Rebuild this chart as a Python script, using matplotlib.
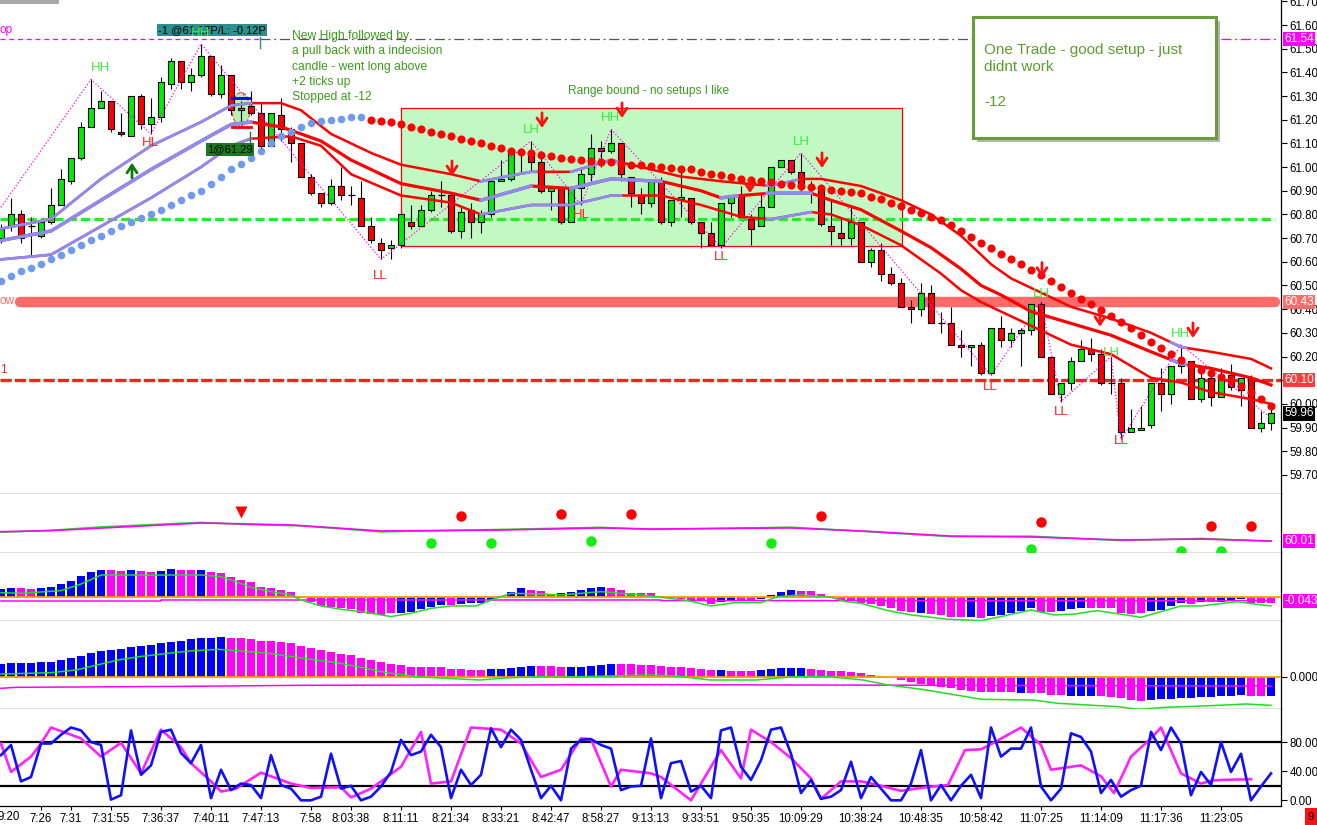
import numpy as np
import matplotlib
matplotlib.use("Agg")
import matplotlib.pyplot as plt
from matplotlib.patches import Rectangle, Ellipse

plt.rcParams['font.family'] = ['Liberation Sans', 'DejaVu Sans']

# ---------------- DATA ----------------
OPEN = [60.70,60.75,60.80,60.75,60.71,60.77,60.84,60.94,61.04,61.17,
        61.25,61.28,61.15,61.13,61.30,61.18,61.21,61.35,61.45,61.36,
        61.39,61.47,61.31,61.39,61.24,61.26,61.23,61.09,61.22,61.16,
        61.10,60.96,60.89,60.85,60.92,60.88,60.87,60.75,60.68,60.66,
        60.67,60.77,60.75,60.82,60.88,60.88,60.73,60.82,60.77,60.80,
        60.94,60.95,61.06,61.06,61.02,60.90,60.91,60.77,60.91,60.97,
        61.08,61.07,61.10,60.96,60.88,60.85,60.94,60.77,60.865,60.87,
        60.77,60.72,60.67,60.85,60.88,60.78,60.75,60.83,61.00,61.03,
        60.98,60.91,60.91,60.75,60.72,60.70,60.77,60.60,60.65,60.55,
        60.51,60.41,60.40,60.47,60.34,60.34,60.25,60.24,60.25,60.13,
        60.32,60.27,60.30,60.31,60.42,60.20,60.04,60.09,60.18,60.23,
        60.21,60.09,60.09,59.88,59.89,59.91,60.09,60.04,60.16,60.18,
        60.02,60.11,60.03,60.12,60.06,60.11,59.90,59.92]
HIGH = [60.76,60.87,60.82,60.79,60.77,60.91,60.99,61.04,61.19,61.37,
        61.32,61.28,61.23,61.30,61.31,61.29,61.38,61.46,61.45,61.42,
        61.52,61.47,61.43,61.39,61.28,61.32,61.27,61.23,61.29,61.17,
        61.10,60.97,60.89,60.95,61.00,60.92,60.94,60.79,60.70,60.69,
        60.80,60.84,60.84,60.90,60.94,60.89,60.83,60.85,60.82,60.94,
        61.03,61.07,61.08,61.11,61.07,60.91,60.91,60.92,61.00,61.14,
        61.11,61.16,61.10,60.96,60.91,60.94,60.96,60.86,60.98,60.87,
        60.77,60.77,60.85,60.88,60.92,60.80,60.89,61.00,61.03,61.03,
        61.06,60.94,60.91,60.86,60.79,60.83,60.77,60.66,60.68,60.58,
        60.53,60.44,60.51,60.50,60.39,60.41,60.31,60.25,60.26,60.32,
        60.37,60.32,60.32,60.42,60.43,60.20,60.09,60.20,60.27,60.28,
        60.23,60.20,60.11,59.98,59.99,60.09,60.15,60.16,60.25,60.18,
        60.15,60.15,60.15,60.17,60.11,60.12,59.97,59.98]
LOW = [60.68,60.73,60.68,60.62,60.70,60.76,60.84,60.93,61.03,61.17,
       61.25,61.15,61.13,61.13,61.16,61.14,61.19,61.33,61.33,61.32,
       61.38,61.30,61.29,61.22,61.18,61.22,61.08,61.09,61.11,61.02,
       60.96,60.88,60.83,60.84,60.86,60.84,60.75,60.68,60.61,60.61,
       60.66,60.74,60.75,60.81,60.83,60.72,60.70,60.70,60.72,60.79,
       60.94,60.94,60.98,60.98,60.89,60.82,60.76,60.77,60.84,60.94,
       61.00,61.06,60.94,60.83,60.80,60.83,60.76,60.75,60.79,60.76,
       60.66,60.67,60.66,60.79,60.79,60.67,60.75,60.83,61.00,60.97,
       60.90,60.85,60.75,60.67,60.67,60.67,60.60,60.58,60.52,60.50,
       60.41,60.34,60.37,60.34,60.30,60.25,60.20,60.16,60.12,60.12,
       60.24,60.24,60.16,60.29,60.20,60.04,60.01,60.06,60.18,60.18,
       60.08,60.04,59.85,59.88,59.89,59.90,59.97,60.00,60.13,60.02,
       60.01,59.99,60.03,60.06,59.99,59.90,59.88,59.89]
CLOSE = [60.74,60.80,60.70,60.75,60.77,60.84,60.95,61.04,61.17,61.25,
         61.28,61.16,61.14,61.30,61.18,61.21,61.36,61.45,61.36,61.39,
         61.47,61.31,61.39,61.24,61.25,61.23,61.09,61.23,61.16,61.10,
         60.96,60.89,60.85,60.92,60.88,60.88,60.75,60.69,60.65,60.67,
         60.80,60.75,60.82,60.88,60.88,60.73,60.81,60.77,60.80,60.94,
         60.95,61.06,61.065,61.02,60.90,60.91,60.77,60.91,60.97,61.08,
         61.07,61.10,60.97,60.89,60.85,60.94,60.77,60.86,60.875,60.77,
         60.72,60.67,60.85,60.88,60.79,60.74,60.83,61.00,61.03,60.98,
         60.91,60.91,60.76,60.73,60.70,60.77,60.60,60.65,60.55,60.51,
         60.41,60.40,60.47,60.34,60.34,60.25,60.24,60.25,60.13,60.32,
         60.27,60.30,60.31,60.42,60.20,60.04,60.09,60.18,60.23,60.21,
         60.09,60.09,59.88,59.90,59.90,60.09,60.04,60.16,60.18,60.02,
         60.11,60.03,60.12,60.07,60.11,59.90,59.92,59.96]

TICK_BARS = [4, 7, 11, 16, 21, 26, 31, 35, 40, 45, 50, 55, 60, 65, 70, 75, 80,
             86, 92, 98, 104, 110, 116, 122]
TICK_LABELS = ["7:26", "7:31", "7:31:55", "7:36:37", "7:40:11", "7:47:13", "7:58",
               "8:03:38", "8:11:11", "8:21:34", "8:33:21", "8:42:47", "8:58:27",
               "9:13:13", "9:33:51", "9:50:35", "10:09:29", "10:38:24", "10:48:35",
               "10:58:42", "11:07:25", "11:14:09", "11:17:36", "11:23:05"]
FIRST_LABEL = "9:20"

# three band lines (bar, price) and bars where they are drawn blue
BAND_UP = [(0,60.74),(5,60.78),(10,60.95),(15,61.09),(20,61.19),(23,61.26),(25,61.27),(28,61.27),
           (30,61.24),(33,61.14),(37,61.06),(40,61.01),(45,60.97),(48,60.94),(53,60.98),(57,60.98),
           (61,61.03),(64,61.00),(68,60.96),(72,60.94),(77,60.92),(80,60.95),(82,60.95),(86,60.92),
           (90,60.86),(93,60.80),(96,60.71),(99,60.59),(101,60.53),(104,60.47),(107,60.41),
           (111,60.36),(115,60.30),(118,60.24),(121,60.22),(125,60.19),(127,60.15)]
BAND_MID = [(0,60.69),(5,60.73),(10,60.86),(15,60.99),(20,61.11),(23,61.18),(25,61.19),(28,61.17),
            (32,61.11),(35,61.03),(40,60.93),(45,60.89),(48,60.86),(53,60.92),(57,60.91),(61,60.95),
            (66,60.94),(70,60.90),(72,60.87),(74,60.88),(77,60.89),(81,60.89),(83,60.86),(86,60.82),
            (90,60.73),(93,60.66),(96,60.57),(98,60.50),(100,60.46),(103,60.39),(107,60.34),
            (111,60.29),(115,60.22),(118,60.17),(121,60.15),(125,60.11),(127,60.08)]
BAND_LOW = [(0,60.61),(5,60.63),(10,60.75),(15,60.87),(20,61.00),(23,61.09),(25,61.12),(29,61.13),
            (32,61.09),(35,60.97),(40,60.88),(45,60.85),(48,60.80),(53,60.84),(57,60.84),(61,60.88),
            (66,60.88),(70,60.84),(74,60.79),(77,60.78),(81,60.81),(83,60.80),(86,60.755),(90,60.67),
            (92,60.61),(94,60.55),(96,60.48),(98,60.43),(103,60.33),(107,60.25),(111,60.21),
            (115,60.11),(118,60.09),(121,60.05),(125,60.02),(127,60.00)]
BLUE_UP = [(0,25),(48,53.5),(57,61.6),(76.6,79.6),(117,118.5)]
BLUE_MID = [(0,25),(48,53),(57,66),(72,73.6),(76.6,81),(117,118.5)]
BLUE_LOW = [(0,25),(48,62),(76.6,81)]

BLUE_DOTS = [60.52,60.54,60.56,60.575,60.59,60.61,60.63,60.65,60.67,60.69,
             60.71,60.73,60.75,60.77,60.785,60.80,60.82,60.84,60.86,60.88,
             60.90,60.93,60.96,60.99,61.015,61.04,61.07,61.10,61.13,61.15,
             61.17,61.185,61.195,61.20,61.205,61.21,61.21]
RED_DOTS = [61.20,61.195,61.19,61.18,61.17,61.16,61.15,61.14,61.13,61.12,
            61.11,61.10,61.09,61.08,61.07,61.065,61.06,61.05,61.045,61.04,
            61.035,61.03,61.025,61.02,61.02,61.015,61.01,61.01,61.005,61.0,
            60.995,60.99,60.99,60.98,60.97,60.965,60.96,60.95,60.945,60.94,
            60.935,60.93,60.925,60.92,60.915,60.91,60.905,60.90,60.895,60.89,
            60.875,60.865,60.85,60.835,60.82,60.805,60.79,60.775,60.755,60.73,
            60.705,60.68,60.66,60.635,60.61,60.59,60.565,60.545,60.52,60.495,
            60.47,60.445,60.42,60.395,60.37,60.345,60.32,60.29,60.26,60.235,
            60.21,60.185,60.165,60.145,60.13,60.115,60.10,60.075,60.05,60.02,59.99]

ZIGZAG = [(0,60.83),(9,61.37),(15,61.14),(20,61.52),(38,60.61),(53,61.11),(58,60.84),(61,61.16),
          (72,60.66),(80,61.06),(99,60.12),(104,60.43),(106,60.01),(111,60.20),(112,59.85),
          (118,60.25),(127,59.94)]

SWING_LABELS = [("HH",9.9,61.418,"g"),("HL",14.9,61.102,"r"),("HH",19.9,61.566,"g"),
                ("LL",37.9,60.540,"r"),("LH",53.0,61.157,"g"),("HL",58.0,60.798,"r"),
                ("HH",60.9,61.207,"g"),("LL",72.0,60.62,"r"),("LH",80.0,61.106,"g"),
                ("LL",98.9,60.071,"r"),("LH",104.0,60.464,"g"),("LL",106.0,59.966,"r"),
                ("LH",111.0,60.215,"g"),("LL",112.0,59.843,"r"),("HH",118.0,60.295,"g")]
DOWN_ARROWS = [(45.1,60.994),(54.1,61.197),(62.1,61.239),(74.9,60.922),(82.1,61.028),
               (104.1,60.565),(109.9,60.358),(119.2,60.310)]
UP_ARROWS = [(13.1,60.986)]

LEVEL_GREEN = 60.78
LEVEL_LOW = 60.43
LEVEL_RED = 60.10
LEVEL_STOP = 61.54
LAST_PRICE = 59.96
RANGE_BOX = (40.0, 90.1, 60.667, 61.25)

# panel 2
P2_MAG = [(0,60.63),(5,60.70),(20,61.21),(25,61.14),(29,61.08),(38,60.68),(50,60.74),(60,60.88),
          (65,60.81),(79,60.88),(86,60.68),(95,60.34),(103,60.28),(112,60.08),(120,60.14),(127,60.01)]
P2_GRN = [(0,60.60),(5,60.72),(10,60.95),(20,61.25),(25,61.10),(30,61.02),(38,60.62),(50,60.78),
          (60,60.92),(65,60.78),(79,60.93),(86,60.66),(95,60.30),(103,60.33),(112,60.04),(120,60.18),(127,59.99)]
P2_RED = [(46,61.68),(56,61.81),(63,61.81),(82,61.68),(104,61.28),(121,61.01),(125,61.01)]
P2_TRI = [(24,61.92)]
P2_GREEN_DOTS = [(43,59.88),(49,59.88),(59,60.01),(77,59.88),(103,59.48),(118,59.34),(122,59.34)]

# panel 3
HIST1 = [0.106,0.118,0.118,0.106,0.118,0.131,0.169,0.207,0.271,0.321,
         0.347,0.347,0.334,0.347,0.334,0.321,0.334,0.360,0.347,0.347,
         0.347,0.321,0.305,0.258,0.220,0.195,0.131,0.118,0.093,0.068,
         -0.008,-0.055,-0.106,-0.118,-0.131,-0.152,-0.195,-0.212,-0.224,-0.195,
         -0.195,-0.182,-0.152,-0.123,-0.097,-0.097,-0.085,-0.076,-0.068,-0.034,
         0.017,0.068,0.118,0.093,0.080,0.042,0.055,0.068,0.093,0.118,
         0.131,0.118,0.093,0.055,0.055,0.051,0.017,-0.013,-0.017,-0.042,
         -0.042,-0.085,-0.055,-0.042,-0.042,-0.042,-0.025,0.030,0.068,0.093,
         0.080,0.080,0.042,0.017,-0.042,-0.042,-0.068,-0.085,-0.110,-0.140,
         -0.169,-0.182,-0.195,-0.212,-0.224,-0.245,-0.245,-0.245,-0.266,-0.237,
         -0.224,-0.195,-0.169,-0.140,-0.182,-0.182,-0.169,-0.144,-0.131,-0.131,
         -0.131,-0.140,-0.195,-0.212,-0.203,-0.169,-0.161,-0.110,-0.068,-0.085,
         -0.055,-0.055,-0.055,-0.042,-0.017,-0.068,-0.068,-0.068]
HIST1_COL = ("bbmmbbbbbb" "bmmbmmbbmm" "bmmmmmmmmm" "mmmmmmmmmm" "bbbbbmbbbb"
             "bbbmmmbbbb" "bmmmmmmmmm" "mmbbmmbbbb" "mmmmmmmmmm" "mmbmmmmbmb"
             "bbbbmmbbbm" "mmmmmbbbbm" "bmbbbmmm")
HIST1_SIG = [(0,0.059),(2,0.051),(6,0.085),(8,0.169),(10,0.283),(12,0.283),(15,0.283),(18,0.283),
             (20,0.283),(22,0.262),(23.5,0.199),(25,0.127),(27,0.072),(29,0.030),(30,-0.034),
             (32,-0.110),(34,-0.152),(36,-0.182),(38,-0.224),(39,-0.245),(41,-0.203),(43,-0.140),
             (45,-0.110),(47.5,-0.110),(49.5,-0.013),(51,0.051),(54,0.042),(56,0.030),(58,0.051),
             (60,0.072),(62,0.051),(64,0.030),(66,0.0),(68.7,-0.042),(71,-0.110),(73.4,-0.068),
             (76,-0.068),(77.7,0.008),(80,0.030),(83,0.0),(84.5,-0.055),(86,-0.076),(88.7,-0.169),
             (91,-0.224),(94.7,-0.279),(98,-0.296),(100,-0.245),(103,-0.161),(105.3,-0.224),
             (107.4,-0.212),(109.6,-0.169),(114,-0.254),(118,-0.110),(120,-0.110),(123.6,-0.055),
             (125.3,-0.085),(127,-0.110)]
HIST1_MAG = [(0,-0.047),(16,-0.047),(16,-0.034),(66,-0.034),(66,-0.042),(127,-0.043)]
HIST1_LAST = -0.043

# panel 4
HIST2 = [0.039,0.041,0.041,0.041,0.044,0.044,0.050,0.056,0.062,0.071,
         0.077,0.080,0.083,0.089,0.092,0.095,0.101,0.104,0.107,0.113,
         0.116,0.116,0.119,0.116,0.116,0.113,0.107,0.107,0.104,0.101,
         0.092,0.086,0.080,0.074,0.068,0.065,0.056,0.050,0.044,0.038,
         0.035,0.029,0.029,0.029,0.029,0.023,0.023,0.020,0.020,0.023,
         0.023,0.026,0.029,0.032,0.032,0.032,0.029,0.029,0.029,0.032,
         0.035,0.038,0.038,0.038,0.035,0.035,0.032,0.029,0.029,0.026,
         0.023,0.020,0.020,0.017,0.017,0.017,0.020,0.023,0.026,0.026,
         0.026,0.023,0.020,0.017,0.017,0.014,0.011,0.005,0.002,-0.002,
         -0.010,-0.016,-0.022,-0.025,-0.030,-0.035,-0.040,-0.042,-0.045,-0.047,
         -0.047,-0.047,-0.048,-0.048,-0.050,-0.055,-0.055,-0.057,-0.057,-0.057,
         -0.058,-0.060,-0.065,-0.070,-0.072,-0.070,-0.068,-0.066,-0.063,-0.063,
         -0.062,-0.060,-0.058,-0.058,-0.055,-0.058,-0.058,-0.058]
HIST2_COL = ("bbbbbbbbbb" "bbbbbbbbbb" "bbbmmmmmmm" "mmmmmmmmmm" "mmmmmmmmmb"
             "bbbbmmmbbb" "bbmmmmmmmm" "mmbmmmbbbb" "bmmmmmmmmm" "mmmmmmmmmm"
             "mmbmmmmbbb" "mmmmmbbbbb" "bbbbbmmb")
HIST2_SIG = [(0,0.008),(5,0.012),(7.5,0.020),(9.6,0.035),(11.7,0.050),(13.8,0.060),(16.7,0.070),
             (18.8,0.077),(21.8,0.082),(23.5,0.078),(26.8,0.070),(30.2,0.055),(33.6,0.042),
             (36.5,0.025),(38.6,0.012),(41.6,0.0),(44.5,-0.005),(47.9,-0.010),(50.4,-0.004),
             (53.8,0.0),(55.9,-0.002),(58,0.0),(64.9,0.005),(67.5,0.002),(70.9,-0.010),
             (75.5,-0.010),(79.4,0.0),(82.8,0.0),(86.2,-0.010),(88.7,-0.025),(92.1,-0.038),
             (95.5,-0.055),(98.1,-0.068),(103.2,-0.070),(105.7,-0.080),(111.7,-0.090),
             (113.8,-0.098),(116.4,-0.092),(120.2,-0.088),(124.5,-0.082),(127,-0.086)]
HIST2_MAG = [(0,-0.035),(1.5,-0.032),(18.6,-0.029),(29.6,-0.026),(65,-0.024),(127,-0.028)]

# panel 5 (stochastic)
STOCH_K = [62,76,26,32,78,78,90,100,96,80,76,1,7,96,35,48,94,97,65,51,
           76,3,42,14,23,21,3,62,21,16,0,0,5,64,16,20,0,5,19,39,
           83,62,67,90,73,3,42,21,35,99,73,97,83,42,3,20,0,71,83,84,
           76,71,14,19,20,85,3,51,54,12,20,3,96,100,46,28,55,97,100,64,
           10,28,2,5,14,53,3,32,16,0,0,23,69,0,21,0,20,35,3,100,
           60,71,71,100,19,0,16,92,87,67,10,28,5,14,20,94,69,100,78,7,
           39,21,80,39,64,0,19,37]
STOCH_D = [(0,78),(1,39),(3,60),(4,78),(5,100),(8,85),(10,60),(12,79),(14,37),(16,97),(18,73),
           (19,51),(21,26),(22,12),(23.5,16),(26,38),(29,23),(31,17),(34,18),(35,4),(37,16),(40,46),
           (42,94),(43,23),(45,26),(47,100),(50,97),(52,78),(54,32),(56,42),(58,85),(59,84),(61,19),
           (62,42),(65,37),(66,32),(69,0),(72,69),(74,30),(75,97),(77,80),(79,58),(81,30),(82,2),
           (84,26),(86,26),(88,20),(90,13),(92.5,18),(94.7,21),(96.4,69),(98,70),(99.4,80),(102,100),
           (104,76),(105,42),(108,48),(110,33),(111.3,10),(113,60),(115,85),(116,100),(118,37),
           (120,23),(121,27),(122,28),(125,29)]
STOCH_LEVELS = [80, 20]

# ---------------- FIGURE ----------------
W, H = 1317, 825
XR = 1281
fig = plt.figure(figsize=(W / 100, H / 100), dpi=100)
fig.patch.set_facecolor("white")


def add_panel(top, bottom):
    return fig.add_axes([0, 1 - bottom / H, XR / W, (bottom - top) / H])


ax = add_panel(0, 494)
a2 = add_panel(494, 553)
a3 = add_panel(553, 621)
a4 = add_panel(621, 709)
a5 = add_panel(709, 806)
for a in (ax, a2, a3, a4, a5):
    a.set_xlim(-0.1, 128.0)
    a.spines["left"].set_visible(False)
    a.spines["top"].set_visible(False)
    for s in ("right", "bottom"):
        a.spines[s].set_color("black")
        a.spines[s].set_linewidth(0.9)
    a.yaxis.tick_right()
    a.tick_params(axis="y", direction="out", length=4, width=0.8, labelsize=8.3, pad=2)
    a.tick_params(axis="x", bottom=False, labelbottom=False)
    a.set_facecolor("white")

GREEN_TXT = "#3d9b1e"
LBL_G = "#3cec3c"
LBL_R = "#ff2020"

# ---- main price panel ----
ax.set_ylim(59.6194, 61.7056)
pt = np.round(np.arange(59.70, 61.701, 0.10), 2)
ax.set_yticks(pt)
# the 60.10 tick label lies fully under the 60.10 price tag
ax.set_yticklabels(["" if abs(v - LEVEL_RED) < 1e-6 else "%.2f" % v for v in pt])

x0, x1, y0, y1 = RANGE_BOX
ax.add_patch(Rectangle((x0, y0), x1 - x0, y1 - y0, fc="#c2f9c2", ec="#ff0000", lw=0.9, zorder=1))

# level lines
ax.plot([-0.1, 127.4], [LEVEL_GREEN] * 2, color="#22ee22", lw=2.3, ls=(0, (2.9, 1.3)), zorder=2.5)
ax.plot([1.9, 127.4], [LEVEL_LOW] * 2, color="#ff6b6b", lw=7.5, solid_capstyle="round", zorder=2)
ax.plot([-0.1, 128], [LEVEL_RED] * 2, color="#ff2020", lw=2.4, ls=(0, (3.4, 0.9)), zorder=2.5)
ax.plot([-0.1, 25.9], [LEVEL_STOP] * 2, color="#ff00ff", lw=0.9, ls=(0, (4, 3)), zorder=2)
ax.plot([25.9, 122.0], [LEVEL_STOP] * 2, color="#555555", lw=0.9, ls=(0, (8, 3, 1.5, 3)), zorder=2)
ax.plot([122.0, 127.6], [LEVEL_STOP] * 2, color="#ff00ff", lw=0.9, ls=(0, (8, 3, 1.5, 3)), zorder=2)
ax.text(-0.1, 61.578, "op", color="#ff00ff", fontsize=8.5, ha="left", va="center")
ax.text(-0.1, 60.434, "ow", color="#ff6b6b", fontsize=8.5, ha="left", va="center")
ax.text(-0.1, 60.143, "1", color="#ff2020", fontsize=8.5, ha="left", va="center")

# trade marker ellipse
ax.add_patch(Ellipse((24.0, 61.245), 1.8, 0.139, fc="#b4f0b4", ec="#ff3030", ls="--", lw=0.8, zorder=2.8))

# candles
xb = np.arange(len(CLOSE))
o = np.array(OPEN); c = np.array(CLOSE); hi = np.array(HIGH); lo = np.array(LOW)
ax.vlines(xb, lo, hi, color="black", lw=0.8, zorder=3)
bot = np.minimum(o, c); hgt = np.abs(c - o)
up = c > o; dn = c < o; dj = c == o
ax.bar(xb[up], np.maximum(hgt[up], 0.004), 0.62, bot[up], color="#00ee00", edgecolor="black", lw=0.8, zorder=3.1)
ax.bar(xb[dn], np.maximum(hgt[dn], 0.004), 0.62, bot[dn], color="#ff0000", edgecolor="black", lw=0.8, zorder=3.1)
ax.hlines(o[dj], xb[dj] - 0.35, xb[dj] + 0.35, color="black", lw=0.9, zorder=3.1)


def band(points, blues, lw):
    bx, by = zip(*points)
    ax.plot(bx, by, color="#ff0000", lw=lw, zorder=4)
    for s, e in blues:
        xs = np.linspace(s, e, 40)
        ax.plot(xs, np.interp(xs, bx, by), color="#8c8cf5", lw=lw + 0.2, zorder=4.1)


band(BAND_UP, BLUE_UP, 1.8)
band(BAND_MID, BLUE_MID, 2.3)
band(BAND_LOW, BLUE_LOW, 1.8)

ax.scatter(np.arange(len(BLUE_DOTS)), BLUE_DOTS, s=30, color="#6f9bef", zorder=4.3, lw=0)
ax.scatter(np.arange(len(BLUE_DOTS), len(BLUE_DOTS) + len(RED_DOTS)), RED_DOTS, s=34,
           color="#ff0000", zorder=4.3, lw=0)

zx, zy = zip(*ZIGZAG)
ax.plot(zx, zy, color="#ff00ff", lw=0.9, ls=(0, (1, 1.6)), zorder=3.6)

# trade entry/stop marks
ax.plot([23.1, 24.9], [61.292] * 2, color="#0000ff", lw=2, zorder=5)
ax.plot([23.1, 25.0], [61.169] * 2, color="#ff0000", lw=2, zorder=5)
ax.plot([25.9, 25.9], [61.549, 61.503], color="#2f8f8f", lw=1, zorder=5)
ax.plot([24.9, 24.9], [61.148, 61.100], color="#1b7a1b", lw=1, zorder=5)
ax.text(15.7, 61.579, "-1 @61.17P/L: -0.12P", fontsize=8, color="black", ha="left", va="center",
        bbox=dict(boxstyle="square,pad=0.12", fc="#2f8f8f", ec="none"), zorder=6)
ax.text(20.6, 61.074, "1@61.29", fontsize=8, color="black", ha="left", va="center",
        bbox=dict(boxstyle="square,pad=0.12", fc="#1b7a1b", ec="none"), zorder=6)

for t, lx, ly, col in SWING_LABELS:
    ax.text(lx, ly, t, fontsize=9.5, color=LBL_G if col == "g" else LBL_R, ha="center",
            va="center", zorder=7)

for axx, ay in DOWN_ARROWS:
    ax.annotate("", xy=(axx, ay - 0.032), xytext=(axx, ay + 0.032),
                arrowprops=dict(arrowstyle="->,head_width=0.3,head_length=0.45", color="#ff1010",
                                lw=2, shrinkA=0, shrinkB=0, mutation_scale=12), zorder=7)
for axx, ay in UP_ARROWS:
    ax.annotate("", xy=(axx, ay + 0.032), xytext=(axx, ay - 0.032),
                arrowprops=dict(arrowstyle="->,head_width=0.3,head_length=0.45", color="#0a7a0a",
                                lw=2, shrinkA=0, shrinkB=0, mutation_scale=12), zorder=7)

ax.text(29.1, 61.578, "New High followed by\na pull back with a indecision\ncandle - went long above\n"
        "+2 ticks up\nStopped at -12", color=GREEN_TXT, fontsize=8.7, ha="left", va="top",
        linespacing=1.36, zorder=7)
ax.text(64.8, 61.321, "Range bound - no setups I like", color=GREEN_TXT, fontsize=8.6,
        ha="center", va="center", zorder=7)


def tag(a, y, text, bg, fg="white"):
    a.annotate(text, xy=(1, y), xycoords=("axes fraction", "data"), xytext=(2.5, 0),
               textcoords="offset points", ha="left", va="center", fontsize=8.5, color=fg,
               bbox=dict(boxstyle="square,pad=0.1", fc=bg, ec="none"), annotation_clip=False,
               zorder=10)


tag(ax, LEVEL_STOP, "%.2f" % LEVEL_STOP, "#ff00ff")
tag(ax, LEVEL_LOW, "%.2f" % LEVEL_LOW, "#ff6b6b")
tag(ax, LEVEL_RED, "%.2f" % LEVEL_RED, "#ff3b3b")
tag(ax, LAST_PRICE, "%.2f" % LAST_PRICE, "black")

# ---- panel 2 ----
a2.set_ylim(59.21, 63.143)
a2.set_yticks([])
mx, my = zip(*P2_MAG)
gx, gy = zip(*P2_GRN)
a2.plot(gx, gy, color="#22dd22", lw=1.2, zorder=2)
a2.plot(mx, my, color="#ff00ff", lw=1.2, zorder=3)
rx, ry = zip(*P2_RED)
a2.plot(rx, ry, "o", color="#ff0000", ms=7.5, mec="none", zorder=4)
tx, ty = zip(*P2_TRI)
a2.plot(tx, ty, "v", color="#ff0000", ms=8, mec="none", zorder=4)
gdx, gdy = zip(*P2_GREEN_DOTS)
a2.plot(gdx, gdy, "o", color="#11ee11", ms=7.5, mec="none", zorder=4, clip_on=True)
tag(a2, P2_MAG[-1][1], "%.2f" % P2_MAG[-1][1], "#ff00ff")

# ---- panel 3 ----
a3.set_ylim(-0.301, 0.563)
a3.set_yticks([])
cols = ["#0000ff" if ch == "b" else "#ff00ff" for ch in HIST1_COL]
a3.bar(np.arange(len(HIST1)), HIST1, 0.8, color=cols, zorder=2)
a3.axhline(0, color="#ff9900", lw=1.3, zorder=3)
sx, sy = zip(*HIST1_SIG)
a3.plot(sx, sy, color="#22dd22", lw=1.1, zorder=4)
hx, hy = zip(*HIST1_MAG)
a3.plot(hx, hy, color="#ff00ff", lw=1.1, zorder=3.5)
tag(a3, HIST1_LAST, "%.3f" % HIST1_LAST, "#ff00ff")

# ---- panel 4 ----
a4.set_ylim(-0.097, 0.167)
a4.set_yticks([0.0])
a4.set_yticklabels(["0.000"])
cols2 = ["#0000ff" if ch == "b" else "#ff00ff" for ch in HIST2_COL]
a4.bar(np.arange(len(HIST2)), HIST2, 0.8, color=cols2, zorder=2)
a4.axhline(0, color="#ff9900", lw=1.3, zorder=3)
sx, sy = zip(*HIST2_SIG)
a4.plot(sx, sy, color="#22dd22", lw=1.1, zorder=4)
hx, hy = zip(*HIST2_MAG)
a4.plot(hx, hy, color="#ff00ff", lw=1.1, zorder=3.5)

# ---- panel 5 ----
a5.set_ylim(-7.8, 125.4)
a5.set_yticks([80, 40, 0])
a5.set_yticklabels(["80.00", "40.00", "0.00"])
for lv in STOCH_LEVELS:
    a5.axhline(lv, color="black", lw=1.6, zorder=2)
dx, dy = zip(*STOCH_D)
a5.plot(dx, dy, color="#ff22ff", lw=1.9, zorder=3)
a5.plot(np.arange(len(STOCH_K)), STOCH_K, color="#1010ff", lw=1.9, zorder=4)
a5.set_xticks(TICK_BARS)
a5.set_xticklabels(TICK_LABELS)
a5.tick_params(axis="x", bottom=True, labelbottom=True, length=3, width=0.8, labelsize=8.3, pad=2)
fig.text(-2 / W, 1 - 817 / H, FIRST_LABEL, fontsize=8.3, ha="left", va="center")

# ---- figure-level decorations ----
fig.add_artist(Rectangle((0, 1 - 4 / H), 59 / W, 4 / H, transform=fig.transFigure,
                         fc="#a8a8a8", ec="none", zorder=20))
fig.add_artist(Rectangle((977 / W, 1 - 142 / H), 243 / W, 121 / H, transform=fig.transFigure,
                         fc="#b5b5b5", ec="none", zorder=20))
fig.add_artist(Rectangle((973 / W, 1 - 138 / H), 243 / W, 121 / H, transform=fig.transFigure,
                         fc="white", ec="#6b9c3a", lw=2.2, zorder=21))
fig.text(984 / W, 1 - 43 / H, "One Trade - good setup - just\ndidnt work\n\n-12",
         color="#5c9d2e", fontsize=11, ha="left", va="top", linespacing=1.3, zorder=22)
fig.add_artist(Rectangle((1305 / W, 0), 12 / W, 17 / H, transform=fig.transFigure,
                         fc="#ff1010", ec="none", zorder=20))
fig.text(1308 / W, 1 - 817 / H, "9", fontsize=8, ha="left", va="center", color="black", zorder=21)

fig.savefig("out.png", dpi=100)
